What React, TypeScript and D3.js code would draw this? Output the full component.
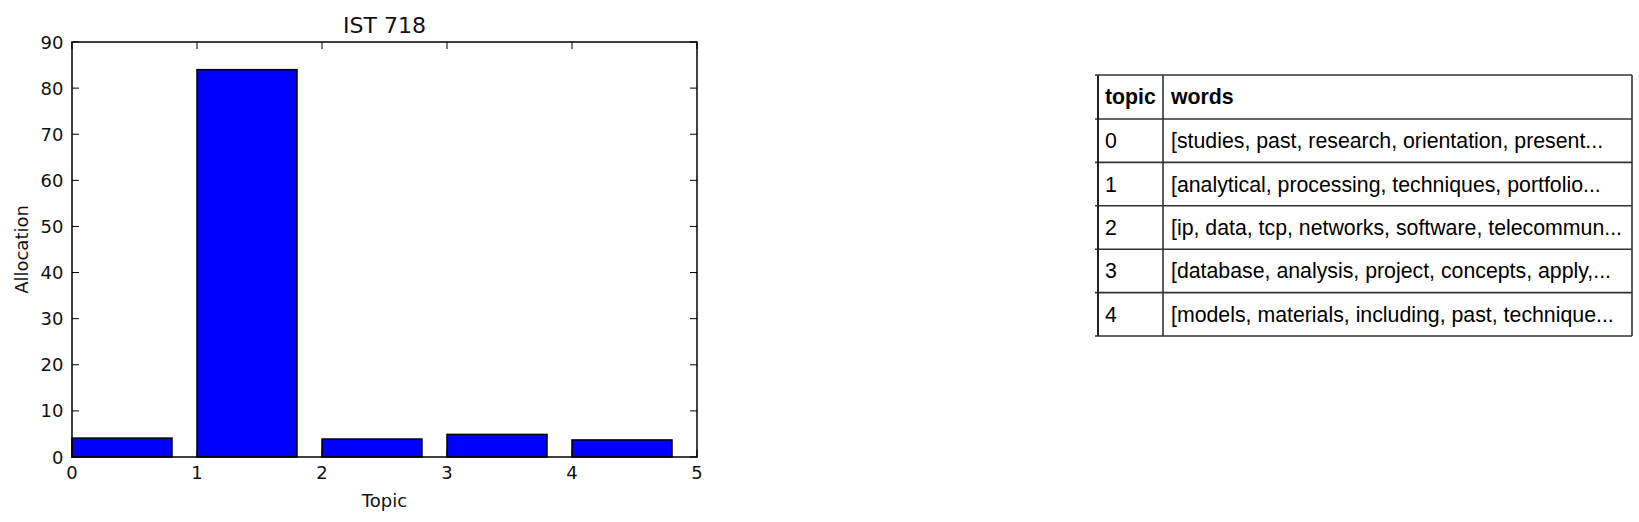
import React from 'react';
import * as d3 from 'd3';

const topics: number[] = [0, 1, 2, 3, 4];
const allocation: number[] = [4.1, 84.0, 3.9, 4.9, 3.7];
const xTicks: number[] = [0, 1, 2, 3, 4, 5];
const yTicks: number[] = [0, 10, 20, 30, 40, 50, 60, 70, 80, 90];
const tableHeader: string[] = ['topic', 'words'];
const topicWords: string[] = [
  '[studies, past, research, orientation, present...',
  '[analytical, processing, techniques, portfolio...',
  '[ip, data, tcp, networks, software, telecommun...',
  '[database, analysis, project, concepts, apply,...',
  '[models, materials, including, past, technique...',
];

const W = 1639;
const H = 522;
const plot = { left: 72, right: 697, top: 42, bottom: 457 };
const chartFont = '"DejaVu Sans", sans-serif';
const tableFont = '"Liberation Sans", Arial, sans-serif';

const App: React.FC = () => {
  const x = d3.scaleLinear().domain([0, 5]).range([plot.left, plot.right]);
  const y = d3.scaleLinear().domain([0, 90]).range([plot.bottom, plot.top]);
  const barWidth = 0.8;
  const tick = 7;
  const labelSize = 18;

  // table layout
  const tLeft = 1098;
  const tRight = 1632;
  const tSep = 1163;
  const rowEdges = d3.range(topics.length + 2).map((i) => (i === 0 ? 75 : 119 + (i - 1) * 43.4));
  const rowMid = (i: number) => (rowEdges[i] + rowEdges[i + 1]) / 2;
  const tFont = 21.3;

  return (
    <svg width={W} height={H} style={{ position: 'absolute', left: 0, top: 0, background: '#fff' }}>
      {/* bars */}
      {topics.map((t, i) => (
        <rect
          key={t}
          x={x(t)}
          y={y(allocation[i])}
          width={x(t + barWidth) - x(t)}
          height={y(0) - y(allocation[i])}
          fill="#0000ff"
          stroke="#000"
          strokeWidth={1.5}
        />
      ))}

      {/* frame */}
      <rect
        x={plot.left}
        y={plot.top}
        width={plot.right - plot.left}
        height={plot.bottom - plot.top}
        fill="none"
        stroke="#000"
        strokeWidth={1.5}
      />

      {/* x ticks */}
      {xTicks.map((t) => (
        <g key={'x' + t}>
          <line x1={x(t)} x2={x(t)} y1={plot.bottom} y2={plot.bottom - tick} stroke="#000" strokeWidth={1} />
          <line x1={x(t)} x2={x(t)} y1={plot.top} y2={plot.top + tick} stroke="#000" strokeWidth={1} />
          <text x={x(t)} y={479} textAnchor="middle" fontFamily={chartFont} fontSize={labelSize} fill="#111">
            {t}
          </text>
        </g>
      ))}

      {/* y ticks */}
      {yTicks.map((t) => (
        <g key={'y' + t}>
          <line x1={plot.left} x2={plot.left + tick} y1={y(t)} y2={y(t)} stroke="#000" strokeWidth={1} />
          <line x1={plot.right} x2={plot.right - tick} y1={y(t)} y2={y(t)} stroke="#000" strokeWidth={1} />
          <text x={63.5} y={y(t) + 6.6} textAnchor="end" fontFamily={chartFont} fontSize={labelSize} fill="#111">
            {t}
          </text>
        </g>
      ))}

      <text x={(plot.left + plot.right) / 2} y={32.5} textAnchor="middle" fontFamily={chartFont} fontSize={22} fill="#111">
        IST 718
      </text>
      <text x={(plot.left + plot.right) / 2} y={507} textAnchor="middle" fontFamily={chartFont} fontSize={labelSize} fill="#111">
        Topic
      </text>
      <text
        transform={`translate(28, ${(plot.top + plot.bottom) / 2}) rotate(-90)`}
        textAnchor="middle"
        fontFamily={chartFont}
        fontSize={labelSize}
        fill="#111"
      >
        Allocation
      </text>

      {/* table */}
      <g fontFamily={tableFont} fontSize={tFont} fill="#000">
        {rowEdges.map((ry, i) => (
          <line key={'h' + i} x1={tLeft - 3} x2={tRight} y1={ry} y2={ry} stroke="#333" strokeWidth={1.6} />
        ))}
        <line x1={tLeft} x2={tLeft} y1={rowEdges[0]} y2={rowEdges[rowEdges.length - 1]} stroke="#222" strokeWidth={2} />
        <line x1={tSep} x2={tSep} y1={rowEdges[0]} y2={rowEdges[rowEdges.length - 1]} stroke="#333" strokeWidth={1.6} />
        <line x1={tRight} x2={tRight} y1={rowEdges[0]} y2={rowEdges[rowEdges.length - 1]} stroke="#333" strokeWidth={1.6} />
        <text x={tLeft + 7} y={rowMid(0) + tFont * 0.35} fontWeight="bold">
          {tableHeader[0]}
        </text>
        <text x={tSep + 8} y={rowMid(0) + tFont * 0.35} fontWeight="bold">
          {tableHeader[1]}
        </text>
        {topics.map((t, i) => (
          <g key={'r' + t}>
            <text x={tLeft + 7} y={rowMid(i + 1) + tFont * 0.35}>
              {t}
            </text>
            <text x={tSep + 8} y={rowMid(i + 1) + tFont * 0.35}>
              {topicWords[i]}
            </text>
          </g>
        ))}
      </g>
    </svg>
  );
};

export default App;
